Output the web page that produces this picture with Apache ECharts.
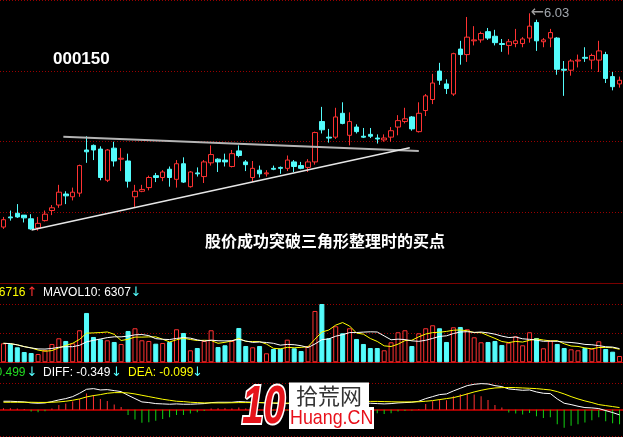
<!DOCTYPE html>
<html><head><meta charset="utf-8">
<script src="https://cdn.jsdelivr.net/npm/echarts@6/dist/echarts.min.js"></script>
<style>html,body{margin:0;padding:0;background:#000;}#c{width:623px;height:437px;}</style>
</head><body><div id="c"></div>
<script>
// ---- data ----
const categories = Array.from({length: 90}, (_, i) => 'D' + (i + 1));
const opens = [3.70,3.81,3.85,3.83,3.79,3.69,3.77,3.88,3.94,4.06,
  4.03,4.07,4.54,4.59,4.55,4.21,4.56,4.44,4.42,4.03,
  4.09,4.13,4.26,4.24,4.33,4.22,4.39,4.14,4.29,4.25,
  4.40,4.44,4.43,4.36,4.53,4.41,4.24,4.32,4.28,4.34,
  4.35,4.34,4.41,4.37,4.35,4.41,4.85,4.68,4.68,4.94,
  4.70,4.79,4.69,4.71,4.67,4.65,4.68,4.79,4.85,4.90,
  4.74,4.97,5.09,5.40,5.26,5.15,5.64,5.58,5.73,5.74,
  5.83,5.78,5.70,5.68,5.70,5.70,5.76,5.93,5.72,5.76,
  5.76,5.42,5.41,5.51,5.55,5.52,5.52,5.58,5.34,5.26];
const closes = [3.78,3.80,3.81,3.80,3.68,3.74,3.84,3.91,4.08,4.04,
  4.08,4.37,4.52,4.54,4.24,4.54,4.42,4.45,4.20,4.09,
  4.11,4.24,4.24,4.30,4.24,4.39,4.19,4.30,4.28,4.41,
  4.49,4.41,4.41,4.50,4.48,4.38,4.34,4.28,4.29,4.33,
  4.34,4.43,4.36,4.34,4.41,4.73,4.76,4.67,4.90,4.83,
  4.85,4.74,4.68,4.69,4.66,4.67,4.75,4.86,4.88,4.77,
  4.94,5.13,5.27,5.30,5.21,5.59,5.58,5.77,5.74,5.81,
  5.76,5.71,5.69,5.72,5.73,5.75,5.89,5.73,5.74,5.82,
  5.42,5.41,5.51,5.52,5.54,5.57,5.62,5.32,5.23,5.30];
const lows = [3.68,3.77,3.80,3.75,3.67,3.66,3.76,3.83,3.91,3.95,
  3.99,4.03,4.40,4.43,4.21,4.19,4.36,4.31,4.13,3.92,
  4.08,4.10,4.19,4.20,4.14,4.13,4.18,4.13,4.25,4.18,
  4.37,4.30,4.36,4.35,4.46,4.31,4.19,4.24,4.25,4.32,
  4.28,4.31,4.30,4.33,4.30,4.38,4.72,4.62,4.66,4.82,
  4.59,4.72,4.67,4.67,4.61,4.63,4.63,4.70,4.83,4.75,
  4.73,4.91,5.04,5.25,5.15,5.13,5.47,5.50,5.68,5.71,
  5.74,5.68,5.61,5.58,5.66,5.66,5.71,5.62,5.66,5.66,
  5.36,5.13,5.35,5.44,5.50,5.42,5.39,5.27,5.19,5.22];
const highs = [3.81,3.88,3.95,3.83,3.84,3.81,3.88,3.94,4.16,4.09,
  4.13,4.38,4.69,4.60,4.58,4.55,4.63,4.56,4.50,4.16,
  4.16,4.26,4.29,4.32,4.36,4.43,4.46,4.31,4.35,4.43,
  4.59,4.45,4.50,4.54,4.59,4.43,4.42,4.37,4.32,4.37,
  4.36,4.48,4.43,4.41,4.44,4.74,5.01,4.77,5.00,5.06,
  4.95,4.82,4.78,4.78,4.71,4.71,4.79,4.92,5.00,4.91,
  5.06,5.15,5.37,5.49,5.31,5.60,5.73,5.99,5.89,5.83,
  5.87,5.85,5.75,5.75,5.86,5.77,6.03,5.96,5.76,5.86,
  5.77,5.51,5.53,5.58,5.66,5.59,5.73,5.61,5.39,5.34];
const volumes = [8740,8420,6900,4740,4280,3820,5660,8420,11040,9800,
  8740,14720,22680,11640,10580,10120,9340,8420,14400,15640,
  10120,9800,8560,8880,9340,15180,13480,5520,6580,9800,
  14720,7040,7820,9800,15780,7500,6900,7500,4140,6120,
  6260,10400,6440,5200,7500,23600,26800,11040,16560,13340,
  15640,10720,8420,6580,6580,5520,9200,13800,14720,7500,
  13340,15640,17020,15640,9340,16100,16240,15180,11500,9200,
  9340,9800,7960,9020,11960,7820,13800,11180,6440,9940,
  8420,6580,5980,5520,6580,6260,9660,6120,4880,2900];
const diffValues = [0.51,0.51,0.49,0.47,0.41,0.39,0.41,0.49,0.59,0.67,
  0.79,0.99,1.23,1.27,1.19,1.21,1.15,1.09,0.87,0.67,
  0.47,0.43,0.37,0.35,0.33,0.35,0.33,0.33,0.35,0.37,
  0.43,0.45,0.45,0.45,0.49,0.47,0.45,0.43,0.41,0.39,
  0.37,0.37,0.37,0.39,0.39,0.41,0.43,0.43,0.43,0.41,
  0.41,0.39,0.39,0.39,0.37,0.35,0.37,0.41,0.43,0.45,
  0.51,0.67,0.79,0.91,0.95,1.13,1.29,1.45,1.53,1.57,
  1.55,1.45,1.39,1.25,1.21,1.17,1.19,1.07,0.99,0.97,
  0.65,0.39,0.31,0.21,0.13,0.11,0.07,-0.05,-0.17,-0.31];
const deaValues = [0.45,0.45,0.45,0.45,0.45,0.44,0.44,0.45,0.47,0.51,
  0.57,0.65,0.77,0.85,0.91,0.99,1.03,1.03,1.01,0.95,
  0.87,0.79,0.71,0.63,0.57,0.51,0.49,0.45,0.43,0.41,
  0.41,0.41,0.41,0.42,0.43,0.43,0.43,0.43,0.42,0.41,
  0.41,0.40,0.40,0.40,0.41,0.42,0.43,0.44,0.45,0.46,
  0.47,0.48,0.49,0.50,0.50,0.49,0.48,0.47,0.47,0.47,
  0.48,0.51,0.55,0.61,0.67,0.73,0.83,0.95,1.07,1.17,
  1.25,1.31,1.33,1.34,1.33,1.31,1.29,1.27,1.23,1.19,
  1.09,0.95,0.79,0.65,0.53,0.43,0.31,0.25,0.19,0.13];
const macdValues = [0.09,0.09,0.07,0.05,-0.11,-0.15,-0.09,0.07,0.29,0.37,
  0.49,0.65,0.97,0.89,0.65,0.53,0.31,0.17,-0.31,-0.59,
  -0.79,-0.75,-0.67,-0.55,-0.45,-0.31,-0.31,-0.23,-0.15,-0.07,
  0.07,0.09,0.09,0.07,0.13,0.08,0.04,0.01,-0.02,-0.04,
  -0.08,-0.06,-0.06,-0.02,-0.04,-0.02,0.01,-0.02,-0.04,-0.10,
  -0.12,-0.18,-0.20,-0.22,-0.21,-0.25,-0.21,-0.11,-0.07,-0.05,
  0.05,0.35,0.51,0.63,0.57,0.81,0.93,1.01,0.91,0.81,
  0.59,0.29,0.13,-0.17,-0.23,-0.29,-0.19,-0.39,-0.49,-0.45,
  -0.87,-1.09,-0.97,-0.87,-0.77,-0.63,-0.45,-0.69,-0.81,-0.87];
// trend lines of the triangle: [candle index, price]
const upperTrend = [[8.65, 4.685], [60.0, 4.529]];
const lowerTrend = [[4.06, 3.668], [58.7, 4.565]];
const peakPoint = [[76, 6.03]];
const stockCode = '000150';
const noteText = '股价成功突破三角形整理时的买点';
const volTitle = {ma5: 'MAVOL5: 6716', ma10: 'MAVOL10: 6307'};
const macdTitle = {macd: 'MACD: -0.499', diff: 'DIFF: -0.349', dea: 'DEA: -0.099'};

// ---- build ----
const RED = '#ff3232', CYAN = '#54fcfc', GREEN = '#12d212';
function movingAvg(arr, n) {
  return arr.map((_, i) => {
    const s = arr.slice(Math.max(0, i - n + 1), i + 1);
    return s.reduce((a, b) => a + b, 0) / s.length;
  });
}
const candleData = opens.map((o, i) => [o, closes[i], lows[i], highs[i]]);
const volData = volumes.map((v, i) => ({
  value: v,
  itemStyle: closes[i] >= opens[i]
    ? {color: '#000', borderColor: RED, borderWidth: 1}
    : {color: CYAN, borderColor: CYAN, borderWidth: 1}
}));
const dotted = {color: '#9a0000', type: [1, 2], width: 1};
const gridPos = {left: -1.78, right: -2.52};
const hiddenCat = (gi, lineColor, lw) => ({
  type: 'category', gridIndex: gi, data: categories, boundaryGap: true,
  axisLine: {show: true, lineStyle: {color: lineColor, width: lw}},
  axisTick: {show: false}, axisLabel: {show: false}, splitLine: {show: false}
});
const deco = (gi, max, interval) => ({
  type: 'value', gridIndex: gi, min: 0, max: max, interval: interval,
  axisLine: {show: false}, axisTick: {show: false}, axisLabel: {show: false},
  splitLine: {show: true, lineStyle: dotted}
});
const txt = (x, y, text, color, align, font) => ({
  type: 'text', x: x, y: y, z: 100,
  style: {text: text, fill: color, align: align || 'left', verticalAlign: 'middle',
    font: font || '12px "Liberation Sans", Arial, sans-serif'}
});

const chart = echarts.init(document.getElementById('c'), null, {renderer: 'canvas'});
chart.setOption({
  animation: false,
  backgroundColor: '#000',
  grid: [
    Object.assign({top: 0, height: 283}, gridPos),
    Object.assign({top: 304, height: 58.3}, gridPos),
    Object.assign({top: 383.3, height: 52.7}, gridPos)
  ],
  xAxis: [
    hiddenCat(0, '#7a0000', 1),
    {type: 'value', gridIndex: 0, min: -0.5, max: 89.5, show: false},
    hiddenCat(1, '#c80000', 1),
    hiddenCat(2, '#a00000', 2)
  ],
  yAxis: [
    {type: 'value', gridIndex: 0, min: 3.09, max: 6.175, show: false},
    deco(0, 4, 1),
    {type: 'value', gridIndex: 1, min: 0, max: 26800, interval: 13400,
      axisLine: {show: false}, axisTick: {show: false}, axisLabel: {show: false},
      splitLine: {show: true, lineStyle: dotted}},
    {type: 'value', gridIndex: 2, min: -1.58, max: 1.59, show: false},
    deco(2, 1, 1)
  ],
  series: [
    {type: 'candlestick', xAxisIndex: 0, yAxisIndex: 0, data: candleData, barWidth: 5,
      itemStyle: {color: '#000', color0: CYAN, borderColor: RED, borderColor0: CYAN, borderWidth: 1}},
    {type: 'line', xAxisIndex: 1, yAxisIndex: 0, data: upperTrend, symbol: 'none',
      lineStyle: {color: '#b4b4b4', width: 2}, z: 5},
    {type: 'line', xAxisIndex: 1, yAxisIndex: 0, data: lowerTrend, symbol: 'none',
      lineStyle: {color: '#e6e6e6', width: 1.5}, z: 5},
    {type: 'scatter', xAxisIndex: 1, yAxisIndex: 0, data: peakPoint, symbolSize: 0.1,
      label: {show: true, position: 'right', distance: 1,
        formatter: p => '{a|←}{b|' + p.value[1].toFixed(2) + '}',
        rich: {a: {fontSize: 16, color: '#c8c8c8', fontFamily: 'DejaVu Sans'},
               b: {fontSize: 13, color: '#c8d0d8', fontFamily: 'Liberation Sans'}}}},
    {type: 'bar', xAxisIndex: 2, yAxisIndex: 2, data: volData, barWidth: 5},
    {type: 'line', xAxisIndex: 2, yAxisIndex: 2, data: movingAvg(volumes, 5), symbol: 'none',
      lineStyle: {color: '#ffff00', width: 1}},
    {type: 'line', xAxisIndex: 2, yAxisIndex: 2, data: movingAvg(volumes, 10), symbol: 'none',
      lineStyle: {color: '#ffffff', width: 1}},
    {type: 'bar', xAxisIndex: 3, yAxisIndex: 3, data: macdValues, barWidth: 1,
      itemStyle: {color: p => p.value >= 0 ? RED : GREEN}},
    {type: 'line', xAxisIndex: 3, yAxisIndex: 3, data: diffValues, symbol: 'none',
      lineStyle: {color: '#ffffff', width: 1}},
    {type: 'line', xAxisIndex: 3, yAxisIndex: 3, data: deaValues, symbol: 'none',
      lineStyle: {color: '#ffff00', width: 1}}
  ],
  graphic: [
    txt(53, 59, stockCode, '#ffffff', 'left', 'bold 17px "Liberation Sans", Arial, sans-serif'),
    txt(205, 241, noteText, '#ffffff', 'left', 'bold 16px "Noto Sans CJK SC", sans-serif'),
    txt(25.5, 293, volTitle.ma5, '#ffff00', 'right'),
    txt(32, 293, '↑', RED, 'center', '13px "DejaVu Sans", sans-serif'),
    txt(43, 293, volTitle.ma10, '#ffffff', 'left'),
    txt(136, 293, '↓', CYAN, 'center', '13px "DejaVu Sans", sans-serif'),
    txt(25.5, 372.5, macdTitle.macd, '#22dd22', 'right'),
    txt(32, 372.5, '↓', CYAN, 'center', '13px "DejaVu Sans", sans-serif'),
    txt(43, 372.5, macdTitle.diff, '#ffffff', 'left'),
    txt(116.5, 372.5, '↓', CYAN, 'center', '13px "DejaVu Sans", sans-serif'),
    txt(128, 372.5, macdTitle.dea, '#ffff00', 'left'),
    txt(197.5, 372.5, '↓', CYAN, 'center', '13px "DejaVu Sans", sans-serif'),
    // watermark logo
    {type: 'rect', z: 100, shape: {x: 289, y: 382.5, width: 80, height: 25}, style: {fill: '#ffffff'}},
    {type: 'rect', z: 100, shape: {x: 289, y: 407, width: 85, height: 22}, style: {fill: '#ffffff'}},
    {type: 'text', z: 101, x: 296, y: 396, style: {text: '拾荒网', fill: '#333333', verticalAlign: 'middle',
      font: '22px "Noto Sans CJK SC", sans-serif'}},
    {type: 'text', z: 101, x: 290, y: 418, scaleX: 0.85, style: {text: 'Huang.CN', fill: '#e8101a', verticalAlign: 'middle',
      font: '21px "Liberation Sans", Arial, sans-serif'}},
    {type: 'text', z: 102, x: 242, y: 408, scaleX: 0.72, style: {text: '10', fill: '#e5141b', stroke: '#ffffff', lineWidth: 4,
      verticalAlign: 'middle', font: 'italic bold 54px "Liberation Sans", Arial, sans-serif'}}
  ]
});
</script></body></html>
